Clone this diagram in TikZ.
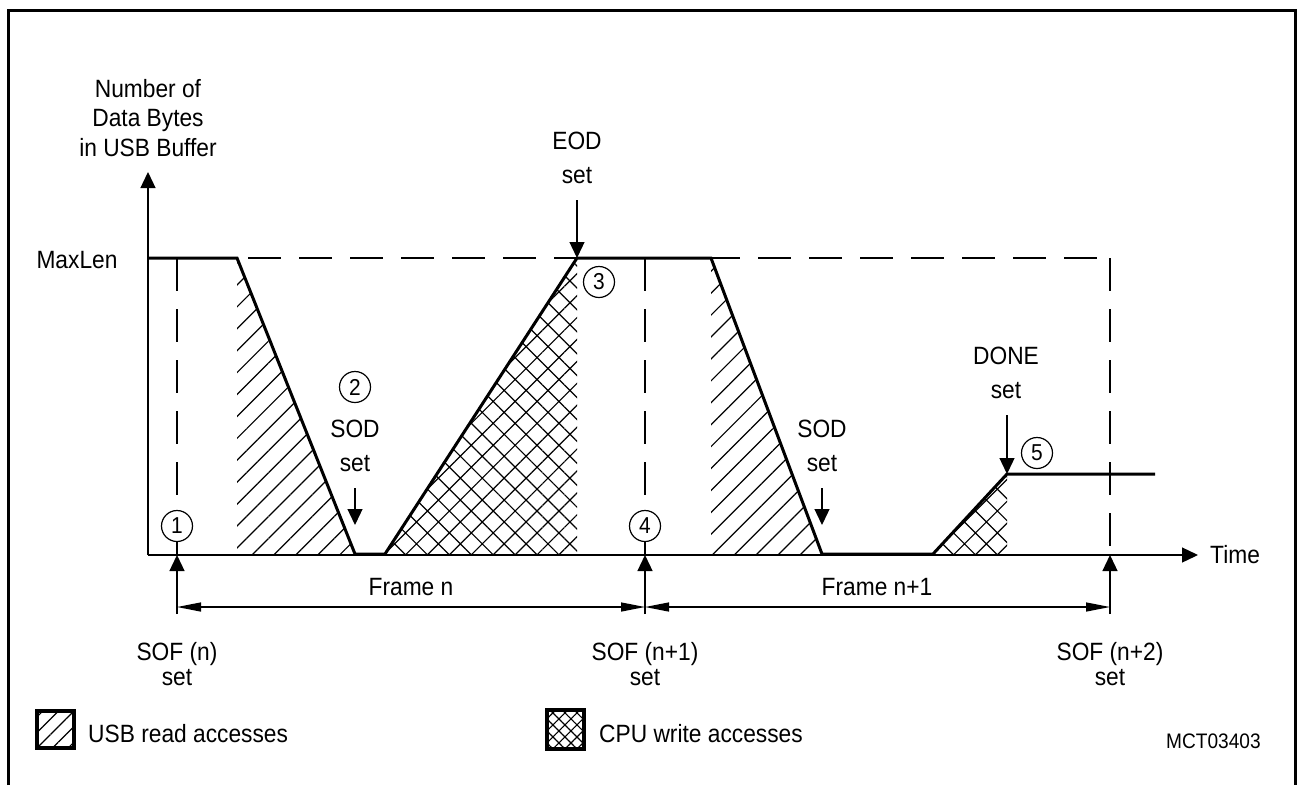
\documentclass[tikz,border=0pt]{standalone}
\usepackage{fontspec}
\setmainfont{Liberation Sans}[FakeStretch=0.91]
\usetikzlibrary{arrows.meta,patterns.meta}
\begin{document}
\begin{tikzpicture}[x=1pt,y=-1pt,
  thinline/.style={line width=1.3pt},
  curve/.style={line width=3pt,line join=miter},
  dashedline/.style={line width=1.3pt,dash pattern=on 33pt off 18pt},
  lbl/.style={font=\fontsize{25}{30}\selectfont,inner sep=0pt,anchor=base},
  num/.style={circle,draw,line width=1.2pt,minimum size=31pt,inner sep=0pt,font=\fontsize{23}{23}\selectfont},
  tri/.style={-{Triangle[length=16pt,width=15pt]}},
  framearrow/.style={line width=1.3pt,{Triangle[length=24pt,width=9pt]}-{Triangle[length=24pt,width=9pt]}},
  readfill/.style={pattern={Lines[angle=45,distance=15.5pt,line width=1.2pt]}},
  writefill/.style={pattern={Hatch[angle=45,distance=15.5pt,line width=1.2pt]}}
]
\useasboundingbox (0,0) rectangle (1299,785);
% frame border (open at bottom)
\draw[line width=3pt] (8,785) -- (8,10) -- (1295,10) -- (1295,785);

% curve points
\coordinate (p0) at (148,258);
\coordinate (p1) at (237,258);
\coordinate (p2) at (355,554);
\coordinate (p3) at (385,554);
\coordinate (p4) at (577,258);
\coordinate (p5) at (711,258);
\coordinate (p6) at (822,554);
\coordinate (p7) at (933,554);
\coordinate (p8) at (1007,474);
\coordinate (p9) at (1155,474);

% hatched areas
\fill[readfill] (p1) -- (p2) -- (237,554) -- cycle;
\fill[writefill] (p3) -- (p4) -- (577,554) -- cycle;
\fill[readfill] (p5) -- (p6) -- (711,554) -- cycle;
\fill[writefill] (p7) -- (p8) -- (1007,554) -- cycle;

% axes
\coordinate (O) at (148,555);
\coordinate (ytop) at (148,172);
\coordinate (xend) at (1198,555);
\draw[thinline,tri] (O) -- (ytop);
\draw[thinline,tri] (O) -- (xend);

% circles
\node[num] (c1) at (177,526) {1};
\node[num] (c2) at (355,387) {2};
\node[num] (c3) at (599,282) {3};
\node[num] (c4) at (645,526) {4};
\node[num] (c5) at (1037,453) {5};

% dashed guides
\coordinate (d0) at (248,258);
\coordinate (d1) at (1110,258);
\coordinate (d2) at (1110,555);
\coordinate (t1) at (177,258);
\coordinate (t4) at (645,258);
\coordinate (a1) at (177,555);
\coordinate (a4) at (645,555);
\draw[dashedline] (d0) -- (d1);
\draw[dashedline] (d1) -- (d2);
\draw[dashedline] (t1) -- (c1.north);
\draw[dashedline] (t4) -- (c4.north);
\draw[thinline] (c1.south) -- (a1);
\draw[thinline] (c4.south) -- (a4);

% buffer curve
\draw[curve] (p0) -- (p1) -- (p2) -- (p3) -- (p4) -- (p5) -- (p6) -- (p7) -- (p8) -- (p9);

% SOF arrows
\coordinate (s1) at (177,614);
\coordinate (s4) at (645,614);
\coordinate (s6) at (1110,614);
\draw[thinline,tri] (s1) -- (a1);
\draw[thinline,tri] (s4) -- (a4);
\draw[thinline,tri] (s6) -- (d2);

% frame arrows
\coordinate (f1) at (177,607);
\coordinate (f4) at (645,607);
\coordinate (f6) at (1110,607);
\draw[framearrow] (f1) -- (f4);
\draw[framearrow] (f4) -- (f6);
\node[lbl] (fn) at (411,595) {Frame n};
\node[lbl] (fn1) at (877,595) {Frame n+1};

% event arrows
\coordinate (eodt) at (577,200);
\coordinate (sod1t) at (355,488);
\coordinate (sod1b) at (355,525);
\coordinate (sod2t) at (822,488);
\coordinate (sod2b) at (822,525);
\coordinate (donet) at (1007,415);
\draw[thinline,tri] (eodt) -- (p4);
\draw[thinline,tri] (sod1t) -- (sod1b);
\draw[thinline,tri] (sod2t) -- (sod2b);
\draw[thinline,tri] (donet) -- (p8);

% labels
\node[lbl] (yl1) at (148,97) {Number of};
\node[lbl] (yl2) at (148,126) {Data Bytes};
\node[lbl] (yl3) at (148,156) {in USB Buffer};
\node[lbl] (maxlen) at (77,268) {MaxLen};
\node[lbl,anchor=base west] (time) at (1210,563) {Time};
\node[lbl] (eod1) at (577,149) {EOD};
\node[lbl] (eod2) at (577,183) {set};
\node[lbl] (sodA1) at (355,437) {SOD};
\node[lbl] (sodA2) at (355,471) {set};
\node[lbl] (sodB1) at (822,437) {SOD};
\node[lbl] (sodB2) at (822,471) {set};
\node[lbl] (done1) at (1006,364) {DONE};
\node[lbl] (done2) at (1006,398) {set};
\node[lbl] (sofa1) at (177,660) {SOF (n)};
\node[lbl] (sofa2) at (177,685) {set};
\node[lbl] (sofb1) at (645,660) {SOF (n+1)};
\node[lbl] (sofb2) at (645,685) {set};
\node[lbl] (sofc1) at (1110,660) {SOF (n+2)};
\node[lbl] (sofc2) at (1110,685) {set};

% legend
\draw[line width=4pt,pattern={Lines[angle=45,distance=11pt,line width=1.2pt]}] (37,711) rectangle (74,748);
\node[lbl,anchor=base west] (leg1) at (88,742) {USB read accesses};
\draw[line width=4pt,pattern={Hatch[angle=45,distance=8.5pt,line width=1.2pt]}] (547,710) rectangle (584,749);
\node[lbl,anchor=base west] (leg2) at (599,742) {CPU write accesses};
\node[lbl,anchor=base west,font=\fontsize{21}{25}\selectfont] (ref) at (1166,748) {MCT03403};
\end{tikzpicture}
\end{document}
